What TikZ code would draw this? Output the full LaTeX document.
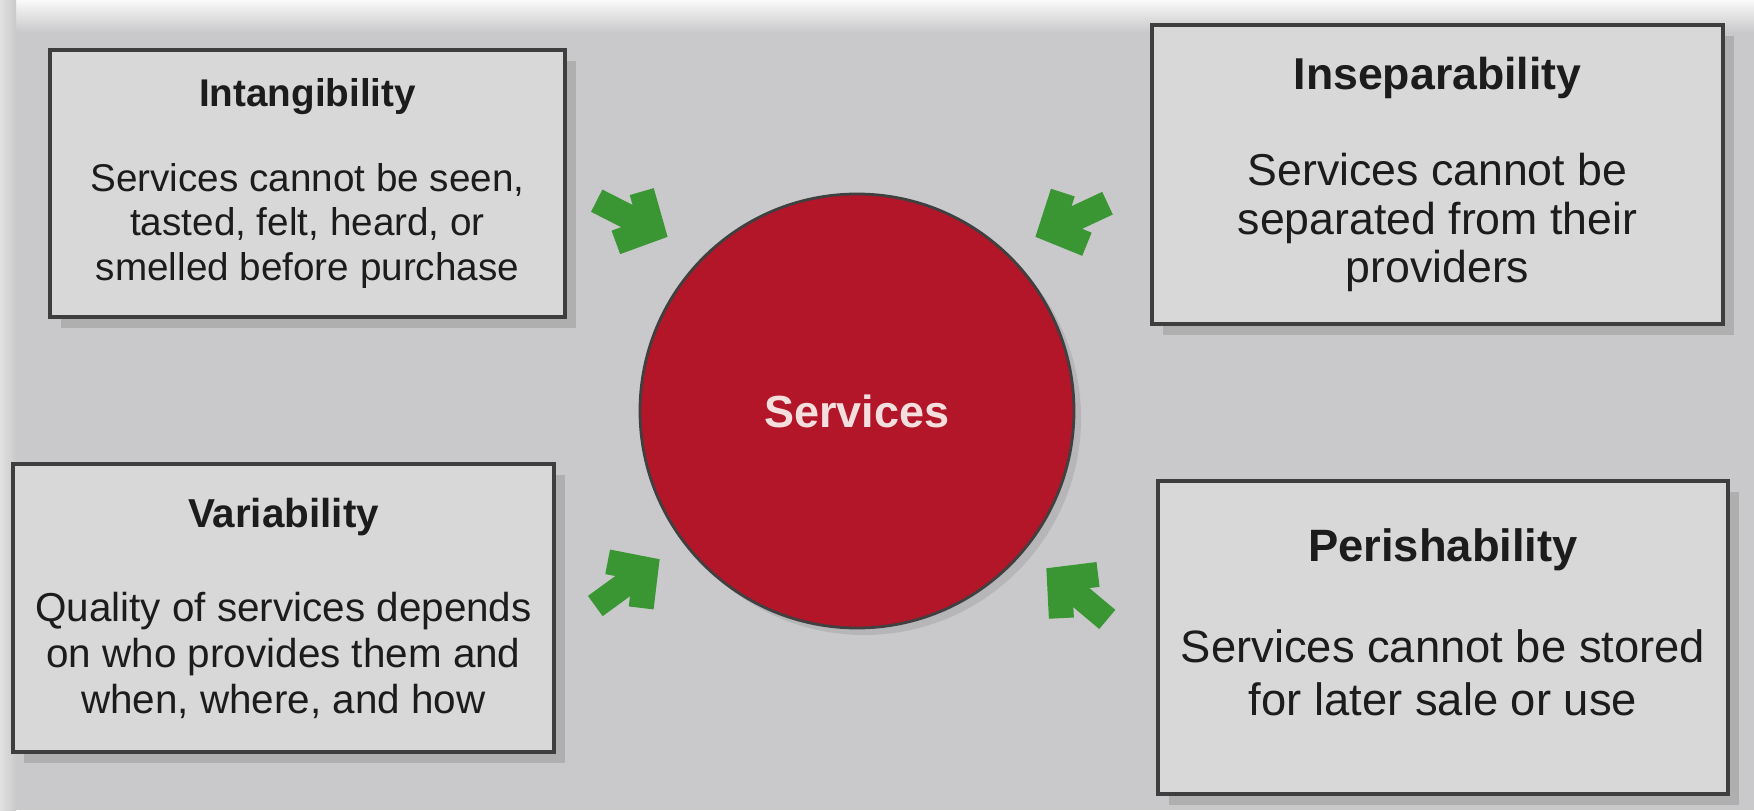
\documentclass[tikz,border=0pt]{standalone}
\usepackage{fontspec}
\setmainfont{Liberation Sans}
\usepackage{xcolor}
\usetikzlibrary{shadows}
\definecolor{paper}{RGB}{201,201,203}
\definecolor{cardgray}{RGB}{216,216,217}
\definecolor{svcred}{RGB}{178,22,40}
\definecolor{leafgreen}{RGB}{58,150,50}
\definecolor{ink}{RGB}{28,28,28}

\begin{document}
\begin{tikzpicture}[
        card/.style={draw=ink!85, line width=0.9pt, fill=cardgray, text=ink, align=center, inner sep=0pt,
            drop shadow={shadow xshift=3pt, shadow yshift=-3pt, opacity=0.35}},
        cardtext/.style={text=ink, align=center, inner sep=0pt},
        fatarrow/.pic={
            \draw[leafgreen, line width=0.25cm, line join=miter] (-0.44,0.285) -- (-0.175,0) -- (-0.44,-0.285);
            \draw[leafgreen, line width=0.25cm] (-0.80,0) -- (-0.175,0);
        }]
        \useasboundingbox (0,0) rectangle (17.54,8.10);
        \fill[paper] (0,0) rectangle (17.54,8.10);
        \shade[top color=white!90!paper, bottom color=paper] (0,7.78) rectangle (17.54,8.10);
        \shade[left color=white!45!paper, right color=paper] (0,0) rectangle (0.16,8.10);

        \node[card, minimum width=5.15cm, minimum height=2.67cm, font=\fontsize{11}{12.7}\selectfont] (intang) at (3.075,6.265)
            {\textbf{Intangibility}\\[0.40cm]Services cannot be seen,\\tasted, felt, heard, or\\smelled before purchase};
        \node[card, minimum width=5.71cm, minimum height=2.99cm, font=\fontsize{12.7}{13.8}\selectfont] (insep) at (14.375,6.355)
            {\textbf{Inseparability}\\[0.48cm]Services cannot be\\separated from their\\providers};
        \node[card, minimum width=5.41cm, minimum height=2.88cm, font=\fontsize{11.5}{13}\selectfont] (var) at (2.835,2.02)
            {\textbf{Variability}\\[0.49cm]Quality of services depends\\on who provides them and\\when, where, and how};
        \node[card, minimum width=5.70cm, minimum height=3.13cm] (perish) at (14.43,1.725) {};
        \node[cardtext, font=\fontsize{12.9}{15.3}\selectfont] (perishtxt) at ([yshift=0.15cm]perish.center)
            {\textbf{Perishability}\\[0.47cm]Services cannot be stored\\for later sale or use};

        \node[circle, fill=svcred, draw=black!75, line width=0.8pt, minimum size=4.34cm, text={rgb,255:red,245;green,222;blue,222},
            font=\bfseries\fontsize{12.8}{14}\selectfont, drop shadow={shadow xshift=2pt, shadow yshift=-2pt, opacity=0.25}] (svc) at (8.57,3.99) {Services};

        \pic[rotate=-27] at (6.68,5.73) {fatarrow};
        \pic[rotate=205] at (10.35,5.73) {fatarrow};
        \pic[rotate=36] at (6.60,2.51) {fatarrow};
        \pic[rotate=140] at (10.46,2.42) {fatarrow};
    \end{tikzpicture}
\end{document}
